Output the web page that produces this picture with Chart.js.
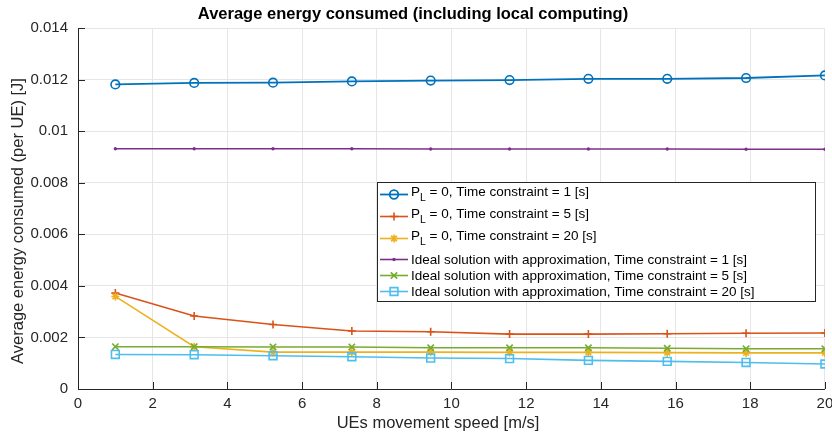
<!DOCTYPE html>
<html>
<head>
<meta charset="utf-8">
<script src="https://cdn.jsdelivr.net/npm/chart.js@4/dist/chart.umd.min.js"></script>
<style>
  html, body { margin: 0; padding: 0; background: #fff; }
  canvas { display: block; }
</style>
</head>
<body>
<canvas id="energy" width="832" height="435"></canvas>
<script>
// UE speeds [m/s] and mean energy per UE [J] for each scheme
const speeds = [1, 3.111, 5.222, 7.333, 9.444, 11.556, 13.667, 15.778, 17.889, 20];

const plTc1  = [0.01181, 0.01187, 0.01188, 0.01193, 0.01196, 0.01198, 0.01203, 0.01203, 0.01206, 0.01216];
const plTc5  = [0.00372, 0.00283, 0.00250, 0.00225, 0.00222, 0.00213, 0.00213, 0.00214, 0.00216, 0.00217];
const plTc20 = [0.00359, 0.00164, 0.00143, 0.00143, 0.00143, 0.00142, 0.00142, 0.00141, 0.00140, 0.00140];
const idTc1  = [0.00932, 0.00932, 0.00932, 0.00932, 0.00931, 0.00931, 0.00931, 0.00931, 0.00930, 0.00930];
const idTc5  = [0.00164, 0.00164, 0.00163, 0.00163, 0.00160, 0.00160, 0.00160, 0.00158, 0.00156, 0.00156];
const idTc20 = [0.00134, 0.00133, 0.00129, 0.00125, 0.00120, 0.00118, 0.00111, 0.00107, 0.00103, 0.00097];

const seriesLabels = [
  'P_L = 0, Time constraint = 1 [s]',
  'P_L = 0, Time constraint = 5 [s]',
  'P_L = 0, Time constraint = 20 [s]',
  'Ideal solution with approximation, Time constraint = 1 [s]',
  'Ideal solution with approximation, Time constraint = 5 [s]',
  'Ideal solution with approximation, Time constraint = 20 [s]'
];
const seriesValues = [plTc1, plTc5, plTc20, idTc1, idTc5, idTc20];

const xTicks = [0, 2, 4, 6, 8, 10, 12, 14, 16, 18, 20];
const yTicks = [0, 0.002, 0.004, 0.006, 0.008, 0.01, 0.012, 0.014];

const FONT = "'Liberation Sans', Arial, Helvetica, sans-serif";
const TEXT = '#262626';

// line colour, marker style, marker radius
const styles = [
  { color: '#0072BD', marker: 'circle',   r: 4.3, w: 1.8 },
  { color: '#D95319', marker: 'cross',    r: 4,   w: 1.6 },
  { color: '#EDB120', marker: 'star',     r: 4,   w: 1.6 },
  { color: '#7E2F8E', marker: 'circle',   r: 0.9, w: 1.6 },
  { color: '#77AC30', marker: 'crossRot', r: 4.5, w: 1.6 },
  { color: '#4DBEEE', marker: 'rect',     r: 5.5, w: 1.6 }
];

const datasets = seriesValues.map((vals, i) => {
  const s = styles[i];
  return {
    label: seriesLabels[i],
    data: speeds.map((x, k) => ({ x: x, y: vals[k] })),
    borderColor: s.color,
    borderWidth: s.w,
    pointStyle: s.marker,
    pointRadius: s.r,
    pointBorderWidth: 1.6,
    pointBorderColor: s.color,
    pointBackgroundColor: s.marker === 'circle' && s.r < 2 ? s.color : 'rgba(0,0,0,0)',
    tension: 0,
    order: 10 - i
  };
});

// inward tick marks on the left and bottom axes
const innerTicks = {
  id: 'innerTicks',
  beforeDatasetsDraw(chart) {
    const { ctx, chartArea: a, scales: { x, y } } = chart;
    ctx.save();
    ctx.strokeStyle = TEXT;
    ctx.lineWidth = 1;
    ctx.beginPath();
    xTicks.forEach(v => {
      const px = Math.round(x.getPixelForValue(v)) + 0.5;
      ctx.moveTo(px, a.bottom);
      ctx.lineTo(px, a.bottom - 7);
    });
    yTicks.forEach(v => {
      const py = Math.round(y.getPixelForValue(v)) + 0.5;
      ctx.moveTo(a.left, py);
      ctx.lineTo(a.left + 7, py);
    });
    ctx.stroke();
    ctx.restore();
  }
};

// axis titles
const axisTitles = {
  id: 'axisTitles',
  afterDraw(chart) {
    const ctx = chart.ctx;
    ctx.save();
    ctx.fillStyle = TEXT;
    ctx.font = '16.5px ' + FONT;
    ctx.textAlign = 'center';
    ctx.textBaseline = 'middle';
    ctx.fillText('UEs movement speed [m/s]', 438, 423);
    ctx.translate(18, 221);
    ctx.rotate(-Math.PI / 2);
    ctx.fillText('Average energy consumed (per UE) [J]', 0, 0);
    ctx.restore();
  }
};

// boxed legend with subscripted P_L
const legendBox = {
  id: 'legendBox',
  afterDraw(chart) {
    const ctx = chart.ctx;
    const rows = [194.5, 216.5, 238.5, 259.5, 275.5, 291.5];
    ctx.save();
    ctx.fillStyle = '#fff';
    ctx.fillRect(377.5, 182.5, 438, 119);
    ctx.strokeStyle = TEXT;
    ctx.lineWidth = 1;
    ctx.strokeRect(377.5, 182.5, 438, 119);
    chart.data.datasets.forEach((ds, i) => {
      const y = rows[i];
      ctx.strokeStyle = ds.borderColor;
      ctx.lineWidth = ds.borderWidth;
      ctx.beginPath();
      ctx.moveTo(380, y);
      ctx.lineTo(408, y);
      ctx.stroke();
      ctx.strokeStyle = ds.pointBorderColor;
      ctx.fillStyle = ds.pointBackgroundColor;
      Chart.helpers.drawPoint(ctx, {
        pointStyle: ds.pointStyle,
        radius: ds.pointRadius,
        borderWidth: ds.pointBorderWidth,
        rotation: 0
      }, 394, y);

      ctx.fillStyle = '#000';
      ctx.textAlign = 'left';
      ctx.textBaseline = 'middle';
      let tx = 411;
      const label = ds.label;
      if (label.indexOf('_') === 1) {
        const ty = y - 2.5;
        ctx.font = '13.5px ' + FONT;
        ctx.fillText(label[0], tx, ty);
        tx += ctx.measureText(label[0]).width;
        ctx.font = '10.5px ' + FONT;
        ctx.fillText(label[2], tx, ty + 6);
        tx += ctx.measureText(label[2]).width;
        ctx.font = '13.5px ' + FONT;
        ctx.fillText(label.slice(3), tx, ty);
      } else {
        ctx.font = '13.5px ' + FONT;
        ctx.fillText(label, tx, y + 0.5);
      }
    });
    ctx.restore();
  }
};

new Chart(document.getElementById('energy'), {
  type: 'line',
  data: { datasets: datasets },
  plugins: [innerTicks, axisTitles, legendBox],
  options: {
    responsive: false,
    animation: false,
    devicePixelRatio: 1,
    layout: { padding: { top: 0, right: 6, bottom: 0, left: 0 } },
    plugins: {
      legend: { display: false },
      tooltip: { enabled: false },
      title: {
        display: true,
        text: 'Average energy consumed (including local computing)',
        color: '#000',
        font: { family: FONT, size: 16.5, weight: 'bold' },
        padding: { top: 5, bottom: 3.2 }
      }
    },
    scales: {
      x: {
        type: 'linear',
        min: 0,
        max: 20,
        afterBuildTicks: s => { s.ticks = xTicks.map(v => ({ value: v })); },
        afterFit: s => { s.height = 46; s.paddingLeft = 0; s.paddingRight = 0; },
        grid: { color: '#e6e6e6', lineWidth: 1, drawTicks: false },
        border: { color: TEXT, width: 1 },
        ticks: {
          color: TEXT,
          font: { family: FONT, size: 15 },
          padding: 6,
          maxRotation: 0,
          callback: v => String(v)
        }
      },
      y: {
        type: 'linear',
        min: 0,
        max: 0.014,
        afterBuildTicks: s => { s.ticks = yTicks.map(v => ({ value: v })); },
        afterFit: s => { s.width = 78; s.paddingTop = 0; s.paddingBottom = 0; },
        grid: { color: '#e6e6e6', lineWidth: 1, drawTicks: false },
        border: { color: TEXT, width: 1 },
        ticks: {
          color: TEXT,
          font: { family: FONT, size: 15 },
          padding: 10,
          callback: v => v === 0 ? '0' : v.toFixed(3).replace(/0+$/, '')
        }
      }
    }
  }
});
</script>
</body>
</html>
